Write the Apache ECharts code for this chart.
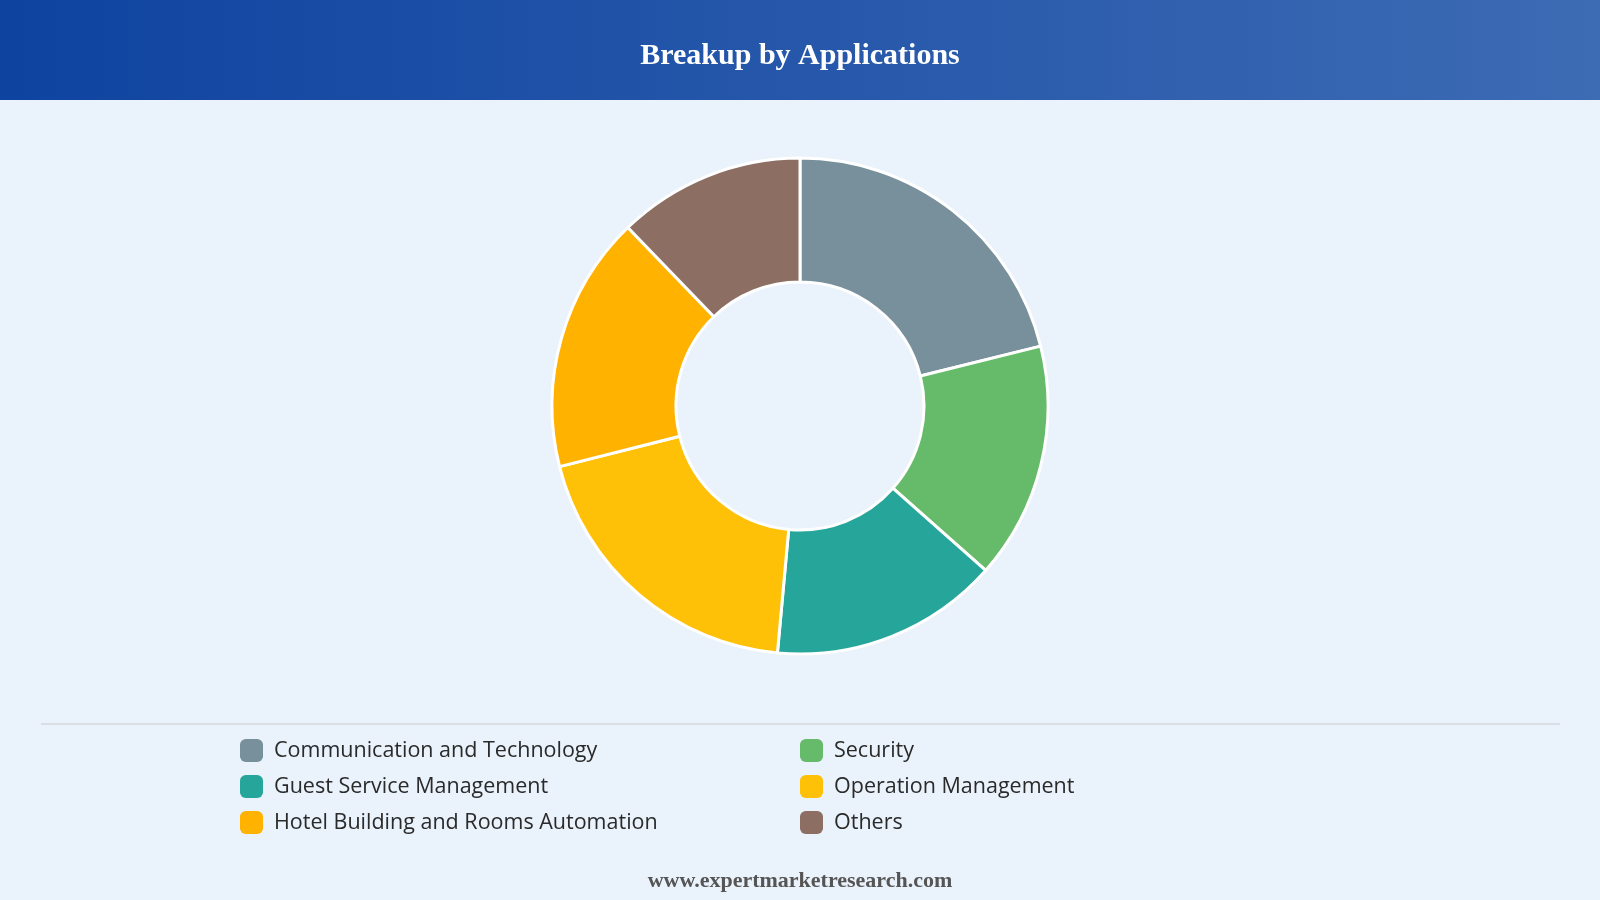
<!DOCTYPE html>
<html>
<head>
<meta charset="utf-8">
<script src="https://cdn.jsdelivr.net/npm/echarts@6/dist/echarts.min.js"></script>
<style>
  html, body { margin: 0; padding: 0; background: #eaf2fb; }
  #main { width: 1600px; height: 900px; }
</style>
</head>
<body>
<div id="main"></div>
<script>
const categories = [
  "Communication and Technology",
  "Security",
  "Guest Service Management",
  "Operation Management",
  "Hotel Building and Rooms Automation",
  "Others"
];
const shares = [21.1, 15.4, 14.9, 19.6, 16.7, 12.2];
const colors = ["#78909c", "#66bb6a", "#26a69a", "#ffc107", "#ffb300", "#8d6e63"];

const chartDom = document.getElementById("main");
const myChart = echarts.init(chartDom);

const legendBase = {
  orient: "vertical",
  top: 739,
  padding: 0,
  icon: "roundRect",
  itemWidth: 23,
  itemHeight: 23,
  itemGap: 13,
  itemStyle: { borderWidth: 0 },
  textStyle: { fontFamily: "Open Sans", fontSize: 21.5, color: "#2a2a2a", padding: [0, 0, 0, 6] },
  selectedMode: false
};

const option = {
  backgroundColor: "#eaf2fb",
  animation: false,
  title: {
    text: "Breakup by Applications",
    left: "center",
    top: 41,
    padding: 0,
    textStyle: { fontFamily: "Liberation Serif", fontWeight: "bold", fontSize: 30, color: "#ffffff" }
  },
  graphic: [
    {
      type: "rect",
      z: -1,
      shape: { x: 0, y: 0, width: 1600, height: 100 },
      style: {
        fill: new echarts.graphic.LinearGradient(0, 0, 1, 0, [
          { offset: 0, color: "#0e43a0" },
          { offset: 1, color: "#3d6bb4" }
        ])
      }
    },
    {
      type: "line",
      shape: { x1: 41, y1: 724, x2: 1560, y2: 724 },
      style: { stroke: "#d3d8de", lineWidth: 1.5 }
    },
    {
      type: "text",
      left: "center",
      top: 870,
      style: {
        text: "www.expertmarketresearch.com",
        fontFamily: "Liberation Serif",
        fontWeight: "bold",
        fontSize: 22,
        fill: "#555555"
      }
    }
  ],
  legend: [
    Object.assign({}, legendBase, { left: 240, data: [categories[0], categories[2], categories[4]] }),
    Object.assign({}, legendBase, { left: 800, data: [categories[1], categories[3], categories[5]] })
  ],
  series: [
    {
      type: "pie",
      center: [800, 406],
      radius: [124, 248],
      startAngle: 90,
      label: { show: false },
      labelLine: { show: false },
      itemStyle: { borderColor: "#ffffff", borderWidth: 3 },
      data: categories.map((name, i) => ({
        name: name,
        value: shares[i],
        itemStyle: { color: colors[i] }
      }))
    }
  ]
};

option && myChart.setOption(option);
</script>
</body>
</html>
